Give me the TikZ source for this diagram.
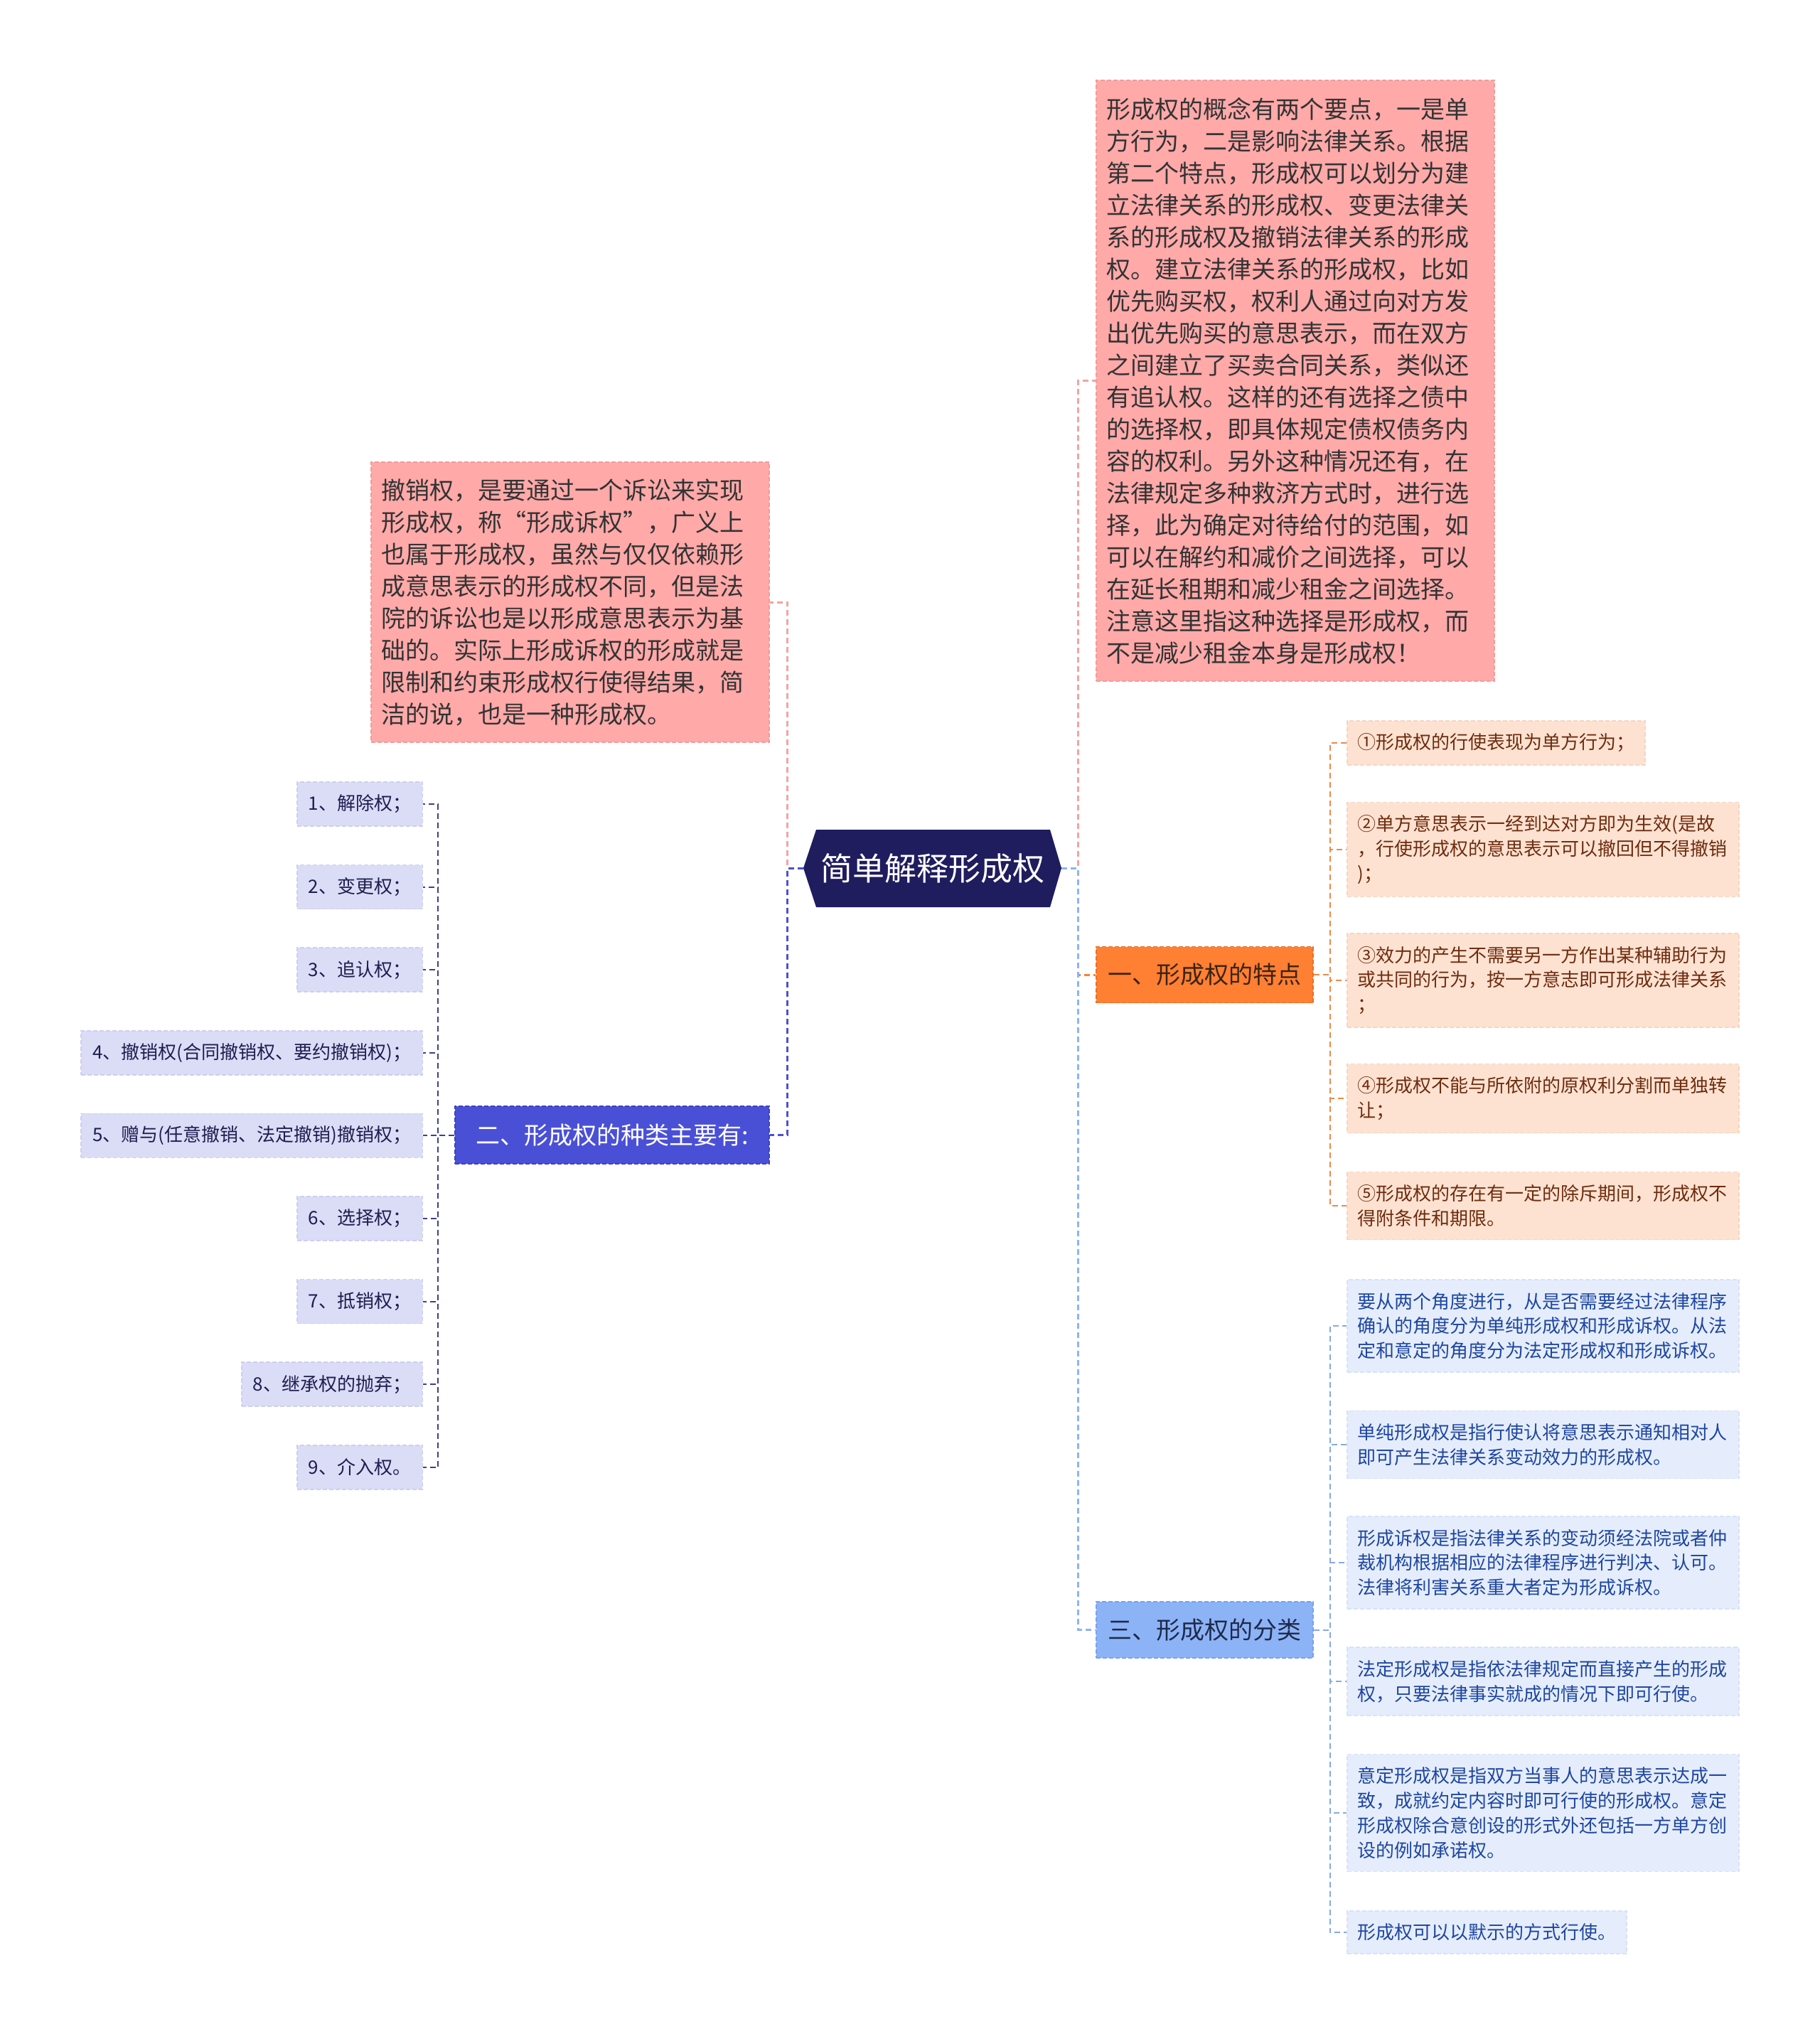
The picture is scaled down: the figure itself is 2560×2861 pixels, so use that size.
\documentclass[tikz,border=0pt]{standalone}
\usepackage{fontspec}
\setmainfont{Noto Sans CJK SC}
\newcommand\fszbig{\fontsize{17pt}{22.5pt}\selectfont}
\newcommand\fszsmall{\fontsize{13pt}{17.4pt}\selectfont}
\newcommand\fszcen{\fontsize{22.5pt}{27pt}\selectfont}
\definecolor{cnavy}{HTML}{1F1D5E}
\definecolor{pinkfill}{HTML}{FFA9A9}
\definecolor{pinkline}{HTML}{F39B9B}
\definecolor{pinkconn}{HTML}{F4A3A3}
\definecolor{orfill}{HTML}{FF7F33}
\definecolor{orline}{HTML}{E8702A}
\definecolor{bluefill}{HTML}{4A50D6}
\definecolor{blueline}{HTML}{3C42C4}
\definecolor{skyfill}{HTML}{8DB3F7}
\definecolor{skyline}{HTML}{7AA2EA}
\definecolor{lavfill}{HTML}{DBDCF6}
\definecolor{lavline}{HTML}{CDCFF0}
\definecolor{peachfill}{HTML}{FDE2D2}
\definecolor{peachline}{HTML}{F8D4C0}
\definecolor{palefill}{HTML}{E5EDFC}
\definecolor{paleline}{HTML}{D6E2F8}
\definecolor{navytext}{HTML}{1E1E50}
\definecolor{browntext}{HTML}{6E2C0E}
\definecolor{bluetext}{HTML}{1E46A0}
\definecolor{navyconn}{HTML}{3D3F8F}
\definecolor{orconn}{HTML}{EB8A4A}
\definecolor{skyconn}{HTML}{86A9E6}
\definecolor{darktext}{HTML}{333333}
\definecolor{brtext}{HTML}{3B2314}
\definecolor{nvtext}{HTML}{1E2A4A}
\begin{document}
\begin{tikzpicture}[x=0.5pt,y=-0.5pt,
  mainconn/.style={line width=1.5pt, dash pattern=on 4pt off 2.5pt},
  subconn/.style={line width=1pt, dash pattern=on 4pt off 2.5pt},
  boxbase/.style={rectangle, dash pattern=on 3pt off 1.5pt, line width=0.75pt},
  pinkbox/.style={boxbase, fill=pinkfill, draw=pinkline, text=darktext, font=\fszbig,
     text width=266pt, align=left, inner xsep=7pt, inner ysep=2pt},
  branchbox/.style={boxbase, font=\fszbig, inner sep=0pt, minimum height=39.5pt},
  lavbox/.style={boxbase, fill=lavfill, draw=lavline, text=navytext, font=\fszsmall,
     inner xsep=8pt, inner ysep=0pt, minimum height=31pt, anchor=east},
  peachbox/.style={boxbase, fill=peachfill, draw=peachline, text=browntext, font=\fszsmall,
     align=left, inner xsep=7.25pt, inner ysep=9pt, anchor=west},
  skybox/.style={boxbase, fill=palefill, draw=paleline, text=bluetext, font=\fszsmall,
     align=left, inner xsep=7.25pt, inner ysep=9pt, anchor=west},
  wide/.style={text width=261pt}
]
\useasboundingbox (0,0) rectangle (2560,2861);
\fill[white] (0,0) rectangle (2560,2861);

% central node
\fill[cnavy] (1130,1221) -- (1148,1167) -- (1477,1167) -- (1493,1221) -- (1477,1276) -- (1148,1276) -- cycle;
\node[text=white, font=\fszcen, minimum width=181.5pt, minimum height=54.5pt, inner sep=0pt] (c) at (1311.5,1221) {简单解释形成权};

% big pink boxes
\node[pinkbox, minimum height=422.5pt] (pinkR) at (1822,535.5) {形成权的概念有两个要点，一是单\\方行为，二是影响法律关系。根据\\第二个特点，形成权可以划分为建\\立法律关系的形成权、变更法律关\\系的形成权及撤销法律关系的形成\\权。建立法律关系的形成权，比如\\优先购买权，权利人通过向对方发\\出优先购买的意思表示，而在双方\\之间建立了买卖合同关系，类似还\\有追认权。这样的还有选择之债中\\的选择权，即具体规定债权债务内\\容的权利。另外这种情况还有，在\\法律规定多种救济方式时，进行选\\择，此为确定对待给付的范围，如\\可以在解约和减价之间选择，可以\\在延长租期和减少租金之间选择。\\注意这里指这种选择是形成权，而\\不是减少租金本身是形成权！};
\node[pinkbox, minimum height=197pt] (pinkL) at (802,847) {撤销权，是要通过一个诉讼来实现\\形成权，称“形成诉权”，广义上\\也属于形成权，虽然与仅仅依赖形\\成意思表示的形成权不同，但是法\\院的诉讼也是以形成意思表示为基\\础的。实际上形成诉权的形成就是\\限制和约束形成权行使得结果，简\\洁的说，也是一种形成权。};

% branch nodes
\node[branchbox, fill=orfill, draw=orline, text=brtext, minimum width=152.5pt] (b1) at (1694.5,1371) {一、形成权的特点};
\node[branchbox, fill=bluefill, draw=blueline, text=white, minimum width=221pt, minimum height=40.5pt] (b2) at (861,1596.5) {二、形成权的种类主要有:};
\node[branchbox, fill=skyfill, draw=skyline, text=nvtext, minimum width=152.5pt] (b3) at (1694.5,2292.5) {三、形成权的分类};

% left items
\node[lavbox] (L1) at (595,1131) {1、解除权；};
\node[lavbox] (L2) at (595,1247.6) {2、变更权；};
\node[lavbox] (L3) at (595,1364.2) {3、追认权；};
\node[lavbox] (L4) at (595,1480.8) {4、撤销权(合同撤销权、要约撤销权)；};
\node[lavbox] (L5) at (595,1597.4) {5、赠与(任意撤销、法定撤销)撤销权；};
\node[lavbox] (L6) at (595,1714) {6、选择权；};
\node[lavbox] (L7) at (595,1830.6) {7、抵销权；};
\node[lavbox] (L8) at (595,1947.2) {8、继承权的抛弃；};
\node[lavbox] (L9) at (595,2063.8) {9、介入权。};

% orange children
\node[peachbox] (O1) at (1894,1045) {①形成权的行使表现为单方行为；};
\node[peachbox, wide] (O2) at (1894,1195) {②单方意思表示一经到达对方即为生效(是故\\，行使形成权的意思表示可以撤回但不得撤销\\)；};
\node[peachbox, wide] (O3) at (1894,1379) {③效力的产生不需要另一方作出某种辅助行为\\或共同的行为，按一方意志即可形成法律关系\\；};
\node[peachbox, wide] (O4) at (1894,1545) {④形成权不能与所依附的原权利分割而单独转\\让；};
\node[peachbox, wide] (O5) at (1894,1696) {⑤形成权的存在有一定的除斥期间，形成权不\\得附条件和期限。};

% blue children
\node[skybox, wide] (S1) at (1894,1865) {要从两个角度进行，从是否需要经过法律程序\\确认的角度分为单纯形成权和形成诉权。从法\\定和意定的角度分为法定形成权和形成诉权。};
\node[skybox, wide] (S2) at (1894,2032) {单纯形成权是指行使认将意思表示通知相对人\\即可产生法律关系变动效力的形成权。};
\node[skybox, wide] (S3) at (1894,2198) {形成诉权是指法律关系的变动须经法院或者仲\\裁机构根据相应的法律程序进行判决、认可。\\法律将利害关系重大者定为形成诉权。};
\node[skybox, wide] (S4) at (1894,2365) {法定形成权是指依法律规定而直接产生的形成\\权，只要法律事实就成的情况下即可行使。};
\node[skybox, wide] (S5) at (1894,2550) {意定形成权是指双方当事人的意思表示达成一\\致，成就约定内容时即可行使的形成权。意定\\形成权除合意创设的形式外还包括一方单方创\\设的例如承诺权。};
\node[skybox] (S6) at (1894,2718) {形成权可以以默示的方式行使。};

% main connectors
\draw[mainconn, pinkconn] (c.west) -- ++(-22,0) |- (pinkL.east);
\draw[mainconn, bluefill] (c.west) -- ++(-22,0) |- (b2.east);
\draw[mainconn, pinkconn] (c.east) -- ++(23,0) |- (pinkR.west);
\draw[mainconn, orfill] (c.east) -- ++(23,0) |- (b1.west);
\draw[mainconn, skyfill] (c.east) -- ++(23,0) |- (b3.west);

% sub connectors
\foreach \i in {1,...,9} {
  \draw[subconn, navyconn] (b2.west) -- ++(-23,0) |- (L\i.east);
}
\foreach \i in {1,...,5} {
  \draw[subconn, orconn] (b1.east) -- ++(23,0) |- (O\i.west);
}
\foreach \i in {1,...,6} {
  \draw[subconn, skyconn] (b3.east) -- ++(23,0) |- (S\i.west);
}
\end{tikzpicture}
\end{document}
